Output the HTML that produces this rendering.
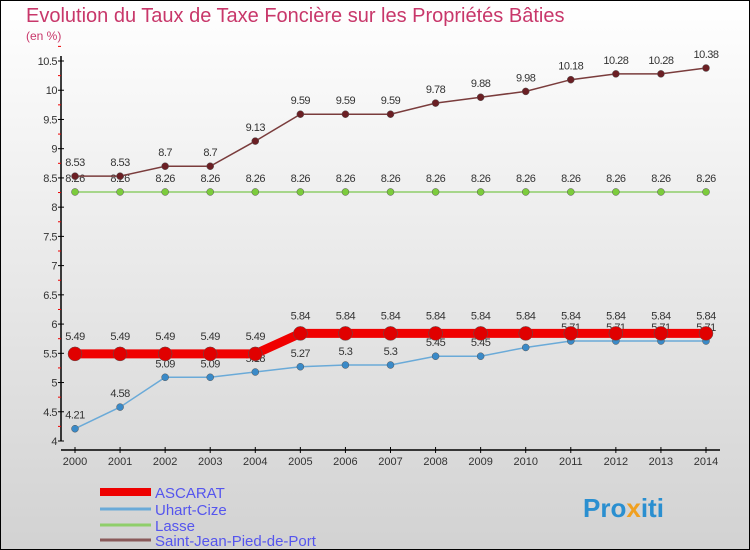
<!DOCTYPE html>
<html><head><meta charset="utf-8"><style>
body{margin:0}
#wrap{width:750px;height:550px;position:relative;box-sizing:border-box;border:1px solid #000;background:linear-gradient(#ffffff,#d2d2d2);font-family:"Liberation Sans",sans-serif;overflow:hidden}
</style></head><body>
<div id="wrap">
<svg id="svg" width="750" height="550" style="position:absolute;left:-1px;top:-1px">
<text x="26" y="22" font-size="20" fill="#c8376a">Evolution du Taux de Taxe Foncière sur les Propriétés Bâties</text>
<text x="26" y="40" font-size="12" fill="#c8376a">(en %)</text>
<g id="axes"></g><g id="series"></g><g id="legend"></g>
<text x="583" y="517" font-size="26" font-weight="bold" fill="#2a8fd0">Pro<tspan fill="#f0a020">x</tspan>iti</text>
</svg>
</div>
<script>
const years=[2000,2001,2002,2003,2004,2005,2006,2007,2008,2009,2010,2011,2012,2013,2014];
const yTicks=[4,4.5,5,5.5,6,6.5,7,7.5,8,8.5,9,9.5,10,10.5];
const ascarat=[5.49,5.49,5.49,5.49,5.49,5.84,5.84,5.84,5.84,5.84,5.84,5.84,5.84,5.84,5.84];
const uhart=[4.21,4.58,5.09,5.09,5.18,5.27,5.3,5.3,5.45,5.45,5.6,5.71,5.71,5.71,5.71];
const lasse=[8.26,8.26,8.26,8.26,8.26,8.26,8.26,8.26,8.26,8.26,8.26,8.26,8.26,8.26,8.26];
const sjpp=[8.53,8.53,8.7,8.7,9.13,9.59,9.59,9.59,9.78,9.88,9.98,10.18,10.28,10.28,10.38];
const seriesNames=["ASCARAT","Uhart-Cize","Lasse","Saint-Jean-Pied-de-Port"];
const NS="http://www.w3.org/2000/svg";
const X=i=>75+i*(706-75)/(years.length-1);
const Y=v=>441-(v-4)*(441-61)/6.5;
function mk(tag,attrs,parent){const e=document.createElementNS(NS,tag);for(const k in attrs)e.setAttribute(k,attrs[k]);parent.appendChild(e);return e;}
const ax=document.getElementById('axes');
let a=mk('line',{x1:61,y1:56,x2:61,y2:441,stroke:'#000','stroke-width':1.5},ax);


a=mk('line',{x1:61,y1:450,x2:720,y2:450,stroke:'#000','stroke-width':1.5},ax);


yTicks.forEach(v=>{const y=Y(v);
 mk('line',{x1:58,y1:y,x2:64,y2:y,stroke:'#000'},ax);
 mk('line',{x1:58,y1:Y(v+0.25),x2:61,y2:Y(v+0.25),stroke:'#e00'},ax);
 const t=mk('text',{x:57,y:y+4,'font-size':11,fill:'#333','text-anchor':'end','letter-spacing':'-0.5'},ax);t.textContent=v;
 
 
});
years.forEach((yr,i)=>{const x=X(i);
 mk('line',{x1:x,y1:447,x2:x,y2:453,stroke:'#000'},ax);
 const t=mk('text',{x:x,y:465,'font-size':11,fill:'#333','text-anchor':'middle'},ax);t.textContent=yr;
 
 
});
const sg=document.getElementById('series');
function draw(data,color,w,r,ptFill,name,labelDy){
 const g=mk('g',{},sg);
 
 
 mk('polyline',{points:data.map((v,i)=>X(i)+','+Y(v)).join(' '),fill:'none',stroke:color,'stroke-width':w},g);
 data.forEach((v,i)=>{const c=mk('circle',{cx:X(i),cy:Y(v),r:r,fill:ptFill,stroke:'#555','stroke-width':0.5},g);
  
  
  const t=mk('text',{x:X(i),y:Y(v)+labelDy,'font-size':11,fill:'#333','text-anchor':'middle','letter-spacing':'-0.5'},g);t.textContent=v;
  
  
 });
}
draw(lasse,'#8fce6a',1.5,3.5,'#7ccc3c','lasse',-10);
draw(sjpp,'#7a3c3c',1.5,3.5,'#6b1f24','saint-jean-pied-de-port',-10);
draw(uhart,'#6aaad8',1.5,3.5,'#3a8ac8','uhart-cize',-10);
draw(ascarat,'#f00000',9,7,'#e00000','ascarat',-14);
const lg=document.getElementById('legend');
const cols=['#ee0000','#6aaad8','#8fce6a','#8a5a5a'],ws=[8,3,3,3],ly=[493,510,526,541];
seriesNames.forEach((n,i)=>{
 const g=mk('g',{},lg);
 
 
 mk('line',{x1:100,y1:ly[i]-1,x2:151,y2:ly[i]-1,stroke:cols[i],'stroke-width':ws[i]},g);
 const t=mk('text',{x:155,y:ly[i]+5,'font-size':15,fill:'#5555ee'},g);t.textContent=n;
});
</script>
</body></html>
